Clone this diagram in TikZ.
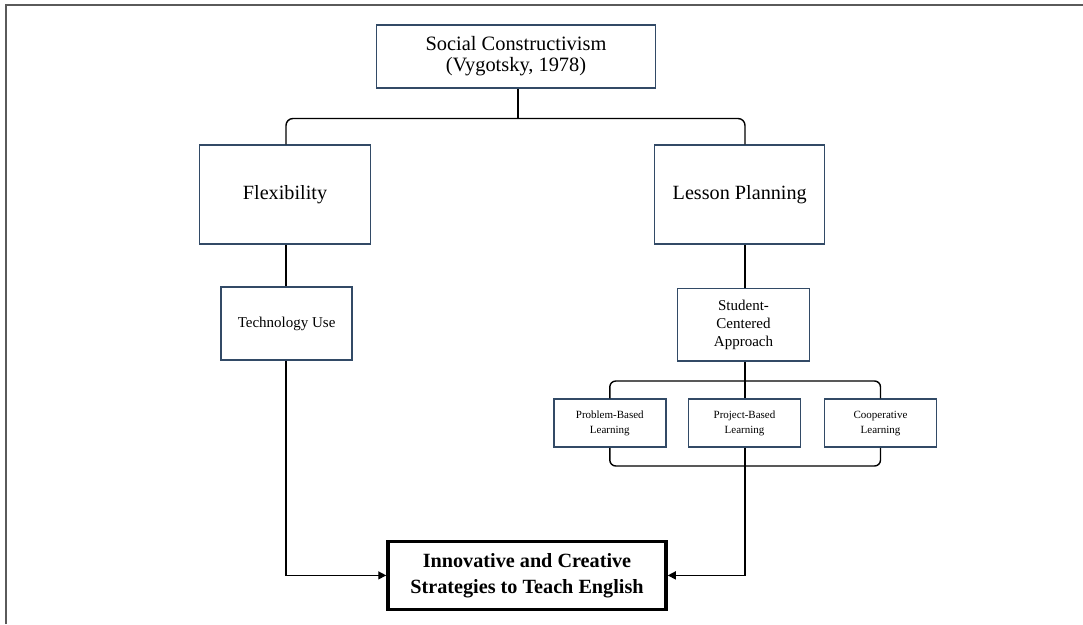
\documentclass[tikz,border=0pt]{standalone}
\usepackage{fontspec}
\setmainfont{Liberation Serif}
\usetikzlibrary{arrows.meta}
\definecolor{boxblue}{RGB}{50,74,102}
\definecolor{framegray}{RGB}{90,90,90}
\begin{document}
\begin{tikzpicture}[x=1pt,y=-1pt,
  box/.style={draw=boxblue,line width=1.5pt,fill=white,inner sep=0pt,align=center},
  conn/.style={draw=black,line width=1.4pt},
  arr/.style={conn,-{Triangle[length=8pt,width=8pt]}},
]
\useasboundingbox (0,0) rectangle (1083,624);
\draw[framegray,line width=2pt] (6,624) -- (6,5) -- (1083,5);

\node[box,minimum width=279pt,minimum height=63pt,font=\fontsize{20.4}{21}\selectfont] (soc) at (516,56.5) {Social Constructivism\\(Vygotsky, 1978)};
\node[box,minimum width=171pt,minimum height=99pt,font=\fontsize{20.2}{22}\selectfont] (flex) at (285,194.7) {Flexibility};
\node[box,minimum width=170pt,minimum height=99pt,font=\fontsize{20.2}{22}\selectfont] (lp) at (739.7,194.7) {Lesson Planning};
\node[box,minimum width=131pt,minimum height=73pt,font=\fontsize{15}{17.7}\selectfont] (tech) at (286.6,323.7) {Technology Use};
\node[box,minimum width=132pt,minimum height=72.5pt,font=\fontsize{15}{17.7}\selectfont] (stu) at (743.5,324.7) {Student-\\Centered\\Approach};
\node[box,minimum width=112pt,minimum height=48pt,font=\fontsize{11}{15}\selectfont] (pbl) at (609.8,423.2) {Problem-Based\\Learning};
\node[box,minimum width=112pt,minimum height=48pt,font=\fontsize{11}{15}\selectfont] (pjl) at (744.5,423.2) {Project-Based\\Learning};
\node[box,minimum width=112pt,minimum height=48pt,font=\fontsize{11}{15}\selectfont] (col) at (880.5,423.2) {Cooperative\\Learning};
\node[box,draw=black,line width=3.5pt,minimum width=278pt,minimum height=68pt,font=\bfseries\fontsize{20.2}{25.7}\selectfont] (fin) at (527,575.4) {Innovative and Creative\\Strategies to Teach English};

\coordinate (xl) at (286,0);
\coordinate (xr) at (745,0);
\coordinate (b1) at (518,118.5);
\coordinate (b2) at (745,381);
\coordinate (b3) at (745,466);

\draw[conn] (soc.south -| b1) -- (b1);
\draw[conn,rounded corners=7pt] (flex.north -| xl) -- (b1 -| xl) -- (b1 -| xr) -- (lp.north -| xr);
\draw[conn] (flex.south -| xl) -- (tech.north -| xl);
\draw[conn] (lp.south -| xr) -- (stu.north -| xr);
\draw[conn] (stu.south -| xr) -- (pjl.north -| xr);
\draw[conn,rounded corners=6pt] (pbl.north) -- (pbl.north |- b2) -- (col.north |- b2) -- (col.north);
\draw[conn,rounded corners=6pt] (pbl.south) -- (pbl.south |- b3) -- (col.south |- b3) -- (col.south);
\draw[arr] (tech.south -| xl) -- (fin.west -| xl) -- (fin.west);
\draw[arr] (pjl.south -| xr) -- (fin.east -| xr) -- (fin.east);
\end{tikzpicture}
\end{document}
